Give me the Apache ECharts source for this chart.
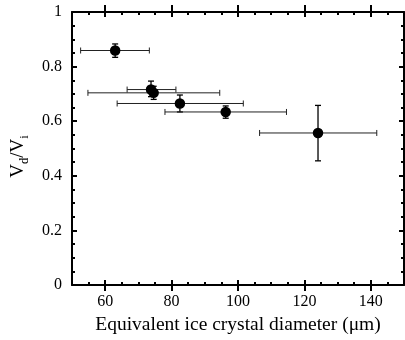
<!DOCTYPE html>
<html>
<head>
<meta charset="utf-8">
<script src="https://cdn.jsdelivr.net/npm/echarts@6/dist/echarts.min.js"></script>
<style>html,body{margin:0;padding:0;background:#fff;}#c{width:405px;height:340px;}</style>
</head>
<body>
<div id="c"></div>
<script>
const xTicks = [60, 80, 100, 120, 140];
const xMinorTicks = [55, 65, 70, 75, 85, 90, 95, 105, 110, 115, 125, 130, 135, 145];
const diameter = [63.0, 73.8, 74.6, 82.5, 96.3, 124.1];
const ratio = [0.859, 0.716, 0.704, 0.665, 0.634, 0.557];
const diameterLow = [52.6, 66.6, 54.8, 63.6, 78.0, 106.5];
const diameterHigh = [73.3, 81.3, 94.5, 101.6, 114.6, 141.8];
const ratioLow = [0.834, 0.690, 0.680, 0.634, 0.611, 0.455];
const ratioHigh = [0.883, 0.747, 0.728, 0.696, 0.656, 0.658];

const points = diameter.map((d, i) => [d, ratio[i]]);
const errs = diameter.map((d, i) => [d, ratio[i], diameterLow[i], diameterHigh[i], ratioLow[i], ratioHigh[i]]);

const FONT = '"Liberation Serif", "DejaVu Serif", serif';
const chart = echarts.init(document.getElementById('c'), null, {renderer: 'canvas'});

const TL = {color: '#000', width: 2};
function xAx(position, opts) {
  return Object.assign({
    type: 'value', min: 50, max: 150, position: position,
    splitLine: {show: false},
    axisLine: {show: false},
    axisLabel: {show: false}
  }, opts);
}
const option = {
  animation: false,
  backgroundColor: '#fff',
  grid: {left: 72, right: 1, top: 12, bottom: 53},
  xAxis: [
    xAx('bottom', {
      axisLine: {show: true, lineStyle: TL},
      axisTick: {show: true, inside: true, length: 5, customValues: xTicks, lineStyle: TL},
      axisLabel: {show: true, customValues: xTicks, margin: 9, color: '#000', fontFamily: FONT, fontSize: 16},
      name: 'Equivalent ice crystal diameter (\u03bcm)',
      nameLocation: 'middle', nameGap: 29,
      nameTextStyle: {color: '#000', fontFamily: FONT, fontSize: 19.5}
    }),
    xAx('bottom', {axisTick: {show: true, inside: false, length: 6, customValues: xTicks, lineStyle: TL}}),
    xAx('bottom', {axisTick: {show: true, inside: true, length: 3, customValues: xMinorTicks, lineStyle: TL}}),
    xAx('top', {
      axisLine: {show: true, lineStyle: TL},
      axisTick: {show: true, inside: false, length: 7, customValues: xTicks, lineStyle: TL}
    }),
    xAx('top', {axisTick: {show: true, inside: true, length: 5, customValues: xTicks, lineStyle: TL}}),
    xAx('top', {axisTick: {show: true, inside: true, length: 3, customValues: xMinorTicks, lineStyle: TL}})
  ],
  yAxis: [
    {
      type: 'value', min: 0, max: 1, interval: 0.2, position: 'left',
      splitLine: {show: false},
      axisLine: {show: true, lineStyle: TL},
      axisTick: {show: true, inside: true, length: 5, lineStyle: TL},
      minorTick: {show: true, splitNumber: 4, length: 3, lineStyle: TL},
      axisLabel: {margin: 10, color: '#000', fontFamily: FONT, fontSize: 16,
        formatter: v => (v === 0 || v === 1) ? String(v) : v.toFixed(1)},
      name: '{a|V}{s|d}{a|/V}{s|i}',
      nameLocation: 'middle', nameRotate: 90, nameGap: 35,
      nameTextStyle: {
        color: '#000', fontFamily: FONT, padding: [0, 16, 0, 0],
        rich: {
          a: {fontFamily: FONT, fontSize: 19, color: '#000', lineHeight: 20, verticalAlign: 'top'},
          s: {fontFamily: FONT, fontSize: 12.5, color: '#000', lineHeight: 12, padding: [10, 0, 0, 0], verticalAlign: 'top'}
        }
      }
    },
    {
      type: 'value', min: 0, max: 1, interval: 0.2, position: 'right',
      splitLine: {show: false},
      axisLine: {show: true, lineStyle: TL},
      axisTick: {show: true, inside: true, length: 5, lineStyle: TL},
      minorTick: {show: true, splitNumber: 4, length: 3, lineStyle: TL},
      axisLabel: {show: false}
    }
  ],
  series: [
    {
      type: 'custom',
      xAxisIndex: 0, yAxisIndex: 0,
      data: errs,
      encode: {x: [0, 2, 3], y: [1, 4, 5]},
      z: 2,
      renderItem: function (params, api) {
        const x = api.value(0), y = api.value(1);
        const pl = api.coord([api.value(2), y]);
        const ph = api.coord([api.value(3), y]);
        const pb = api.coord([x, api.value(4)]);
        const pt = api.coord([x, api.value(5)]);
        const cap = 3;
        const hs = {stroke: '#222', lineWidth: 1};
        const vs = {stroke: '#000', lineWidth: 1.3};
        return {
          type: 'group',
          children: [
            {type: 'line', shape: {x1: pl[0], y1: pl[1], x2: ph[0], y2: ph[1]}, style: hs},
            {type: 'line', shape: {x1: pl[0], y1: pl[1] - cap, x2: pl[0], y2: pl[1] + cap}, style: hs},
            {type: 'line', shape: {x1: ph[0], y1: ph[1] - cap, x2: ph[0], y2: ph[1] + cap}, style: hs},
            {type: 'line', shape: {x1: pb[0], y1: pb[1], x2: pt[0], y2: pt[1]}, style: vs},
            {type: 'line', shape: {x1: pb[0] - cap, y1: pb[1], x2: pb[0] + cap, y2: pb[1]}, style: vs},
            {type: 'line', shape: {x1: pt[0] - cap, y1: pt[1], x2: pt[0] + cap, y2: pt[1]}, style: vs}
          ]
        };
      }
    },
    {
      type: 'scatter',
      xAxisIndex: 0, yAxisIndex: 0,
      data: points,
      symbol: 'circle', symbolSize: 10.5,
      itemStyle: {color: '#000', opacity: 1},
      z: 3
    }
  ]
};
chart.setOption(option);
</script>
</body>
</html>
